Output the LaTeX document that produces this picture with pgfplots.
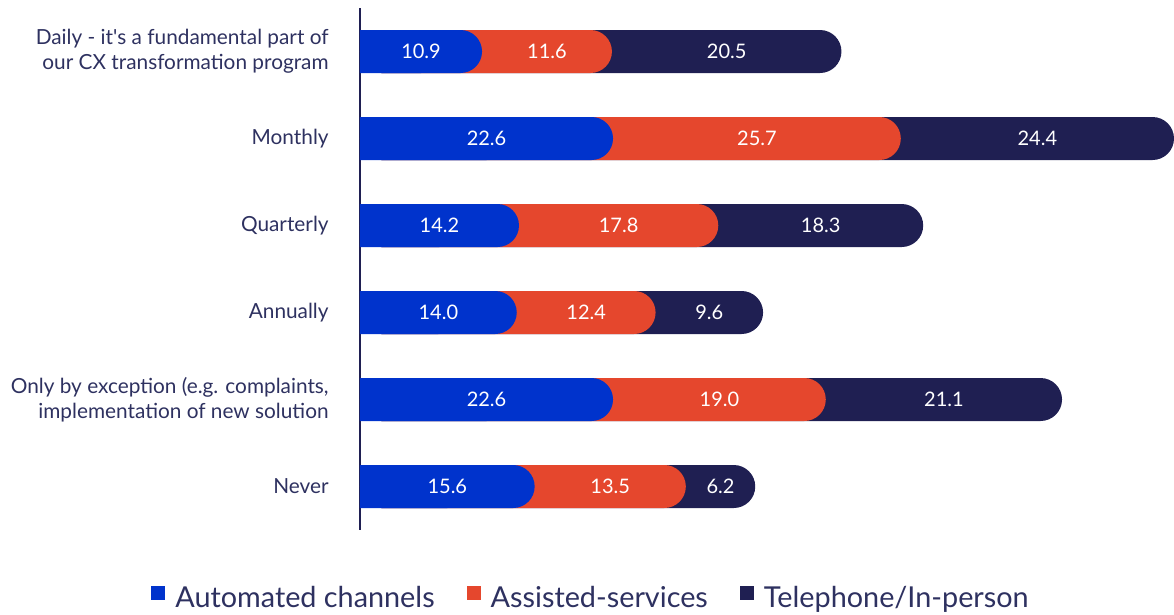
\documentclass[border=0pt]{standalone}
\usepackage{fontspec}
\setmainfont{Lato}
\usepackage{pgfplots}
\usepackage{pgfplotstable}
\pgfplotsset{compat=1.18}

\definecolor{cBlue}{HTML}{0033CC}
\definecolor{cRed}{HTML}{E5472D}
\definecolor{cNavy}{HTML}{1F1F52}
\definecolor{cText}{HTML}{2E3160}

\pgfplotsset{
  seg/.style={xbar, bar shift=0pt, bar width=32.25pt, draw=none,
    rounded corners=16.1pt, forget plot},
  lbl/.style={forget plot, draw=none, mark=none, nodes near coords,
    point meta=explicit,
    nodes near coords style={anchor=center, text=white,
      font=\fontsize{15}{15}\selectfont,
      /pgf/number format/.cd, fixed, fixed zerofill, precision=1,
      assume math mode=true}},
  sq legend/.style={legend image code/.code={%
    \fill[##1,draw=none] (0pt,-1.5pt) rectangle (10.5pt,9pt);}},
}

\pgfplotstableread{
idx auto assist tel
0 10.9 11.6 20.5
1 22.6 25.7 24.4
2 14.2 17.8 18.3
3 14.0 12.4 9.6
4 22.6 19.0 21.1
5 15.6 13.5 6.2
}\cxdata

\begin{document}
\begin{tikzpicture}
\useasboundingbox (-270pt,-63pt) rectangle (610.5pt,397.5pt);
\begin{axis}[
  scale only axis, width=610.5pt, height=391.5pt,
  xmin=0, xmax=72.7, ymin=-0.5, ymax=5.5, y dir=reverse,
  axis x line=none, axis y line*=left,
  y axis line style={cNavy, line width=1.3pt},
  ytick={0,...,5},
  yticklabels={{Daily - it\textquotesingle s a fundamental part of\\our CX transformation program},
    Monthly, Quarterly, Annually,
    {Only by exception (e.g. complaints,\\implementation of new solution},
    Never},
  major tick length=0pt,
  yticklabel style={align=right, text=cText, font=\fontsize{15.6}{19}\selectfont, xshift=-20pt},
  legend columns=3,
  legend style={at={(0.2826,-0.13)}, anchor=center, draw=none, fill=none,
    font=\fontsize{21.6}{22}\selectfont, text=cText,
    nodes={inner sep=0pt},
    /tikz/every odd column/.append style={column sep=7.5pt},
    /tikz/every even column/.append style={column sep=24pt}},
]
% stacked look: longest (cumulative) bar first, each with a rounded end
\addplot[seg, fill=cNavy]
  table[x expr=\thisrow{auto}+\thisrow{assist}+\thisrow{tel}, y=idx] {\cxdata};
\addplot[seg, fill=cRed]
  table[x expr=\thisrow{auto}+\thisrow{assist}, y=idx] {\cxdata};
\addplot[seg, fill=cBlue]
  table[x=auto, y=idx] {\cxdata};
% square left end on the axis line
\addplot[seg, fill=cBlue, sharp corners]
  table[x expr=\thisrow{auto}/2, y=idx] {\cxdata};
% value labels in the middle of each segment
\addplot[lbl] table[x expr=\thisrow{auto}/2, y=idx, meta=auto] {\cxdata};
\addplot[lbl] table[x expr=\thisrow{auto}+\thisrow{assist}/2, y=idx, meta=assist] {\cxdata};
\addplot[lbl] table[x expr=\thisrow{auto}+\thisrow{assist}+\thisrow{tel}/2, y=idx, meta=tel] {\cxdata};
% legend
\addlegendimage{sq legend, fill=cBlue}
\addlegendentry{Automated channels}
\addlegendimage{sq legend, fill=cRed}
\addlegendentry{Assisted-services}
\addlegendimage{sq legend, fill=cNavy}
\addlegendentry{Telephone/In-person}
\end{axis}
\end{tikzpicture}
\end{document}
